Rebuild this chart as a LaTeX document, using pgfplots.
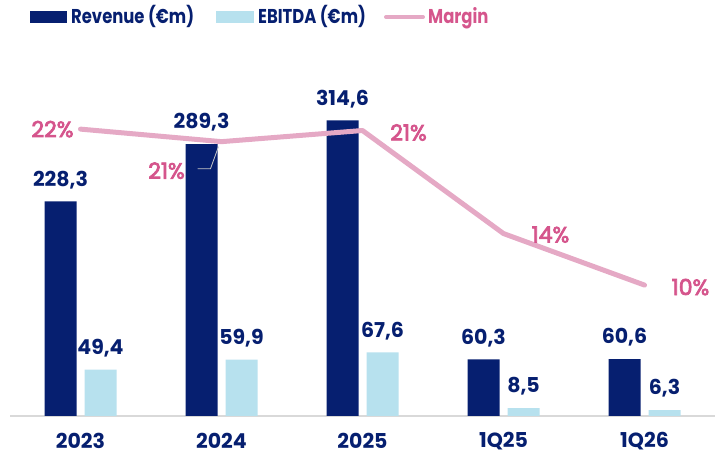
\documentclass[border=0pt]{standalone}
\usepackage{pgfplots}
\pgfplotsset{compat=1.18}
\usepackage{fontspec}
\setmainfont{Poppins}
\newfontfamily\legfont[FakeStretch=0.82]{Poppins}
\newfontfamily\pctfont[FakeBold=3.5]{Poppins}

\definecolor{navy}{HTML}{061F70}
\definecolor{lightblue}{HTML}{B7E1EE}
\definecolor{pinkline}{HTML}{E5A9C5}
\definecolor{pinktext}{HTML}{D5558C}
\definecolor{axisgray}{HTML}{D9D9D9}

\begin{document}
\begin{tikzpicture}[x=1pt,y=1pt]
\path[use as bounding box] (0,0) rectangle (715,465);

% bars: revenue and EBITDA
\begin{axis}[
    at={(10pt,49pt)}, anchor=south west,
    scale only axis, width=705pt, height=376pt,
    xmin=-0.5, xmax=4.5, ymin=0, ymax=400,
    ybar=8pt, bar width=32pt,
    axis x line*=bottom, hide y axis,
    axis line style={axisgray, line width=1.5pt, -},
    xtick={0,1,2,3,4},
    xticklabels={2023,2024,2025,1Q25,1Q26},
    major tick length=0pt,
    xticklabel style={font=\fontsize{20.5}{24}\selectfont\bfseries, text=navy,
                      anchor=center, yshift=-25pt},
    point meta=explicit symbolic,
    nodes near coords,
    nodes near coords style={font=\fontsize{20.5}{24}\selectfont\bfseries,
                             text=navy, anchor=south, yshift=9pt},
]
\addplot[fill=navy, draw=none] coordinates {
    (0,228.3) [228,3]
    (1,289.3) [289,3]
    (2,314.6) [314,6]
    (3,60.3)  [60,3]
    (4,60.6)  [60,6]
};
\addplot[fill=lightblue, draw=none] coordinates {
    (0,49.4) [49,4]
    (1,59.9) [59,9]
    (2,67.6) [67,6]
    (3,8.5)  [8,5]
    (4,6.3)  [6,3]
};
\end{axis}

% margin line on its own scale
\begin{axis}[
    at={(10pt,49pt)}, anchor=south west,
    scale only axis, width=705pt, height=376pt,
    xmin=-0.5, xmax=4.5, ymin=1.0, ymax=28.0,
    hide axis, clip=false,
]
\addplot[pinkline, line width=5pt, line cap=round, line join=round] coordinates {
    (0,21.6) (1,20.7) (2,21.5) (3,14.1) (4,10.4)
};
\begin{scope}[every node/.style={font=\pctfont\fontsize{22}{26}\selectfont,
                                 text=pinktext, anchor=center}]
\node[xshift=-28pt] at (axis cs:0,21.6) {22\%};
\node[xshift=-55pt, yshift=-29pt] at (axis cs:1,20.7) {21\%};
\node[xshift=46pt, yshift=-2pt] at (axis cs:2,21.5) {21\%};
\node[xshift=47pt, yshift=-1pt] at (axis cs:3,14.1) {14\%};
\node[xshift=46pt, yshift=-2pt] at (axis cs:4,10.4) {10\%};
\end{scope}
\draw[gray!45, line width=0.8pt] ([xshift=-3pt, yshift=-5pt]axis cs:1,20.7)
    -- ([xshift=-11pt, yshift=-27pt]axis cs:1,20.7)
    -- ([xshift=-24pt, yshift=-27pt]axis cs:1,20.7);
\end{axis}

% legend
\fill[navy] (30,442) rectangle (67,454);
\node[anchor=base west, inner sep=0pt, text=navy,
      font=\legfont\fontsize{20}{24}\selectfont\bfseries] at (71,441) {Revenue (€m)};
\fill[lightblue] (216,442) rectangle (254,454);
\node[anchor=base west, inner sep=0pt, text=navy,
      font=\legfont\fontsize{20}{24}\selectfont\bfseries] at (258,441) {EBITDA (€m)};
\draw[pinkline, line width=4pt, line cap=round] (386,448) -- (423,448);
\node[anchor=base west, inner sep=0pt, text=pinktext,
      font=\legfont\fontsize{20}{24}\selectfont\bfseries] at (428,441) {Margin};
\end{tikzpicture}
\end{document}
